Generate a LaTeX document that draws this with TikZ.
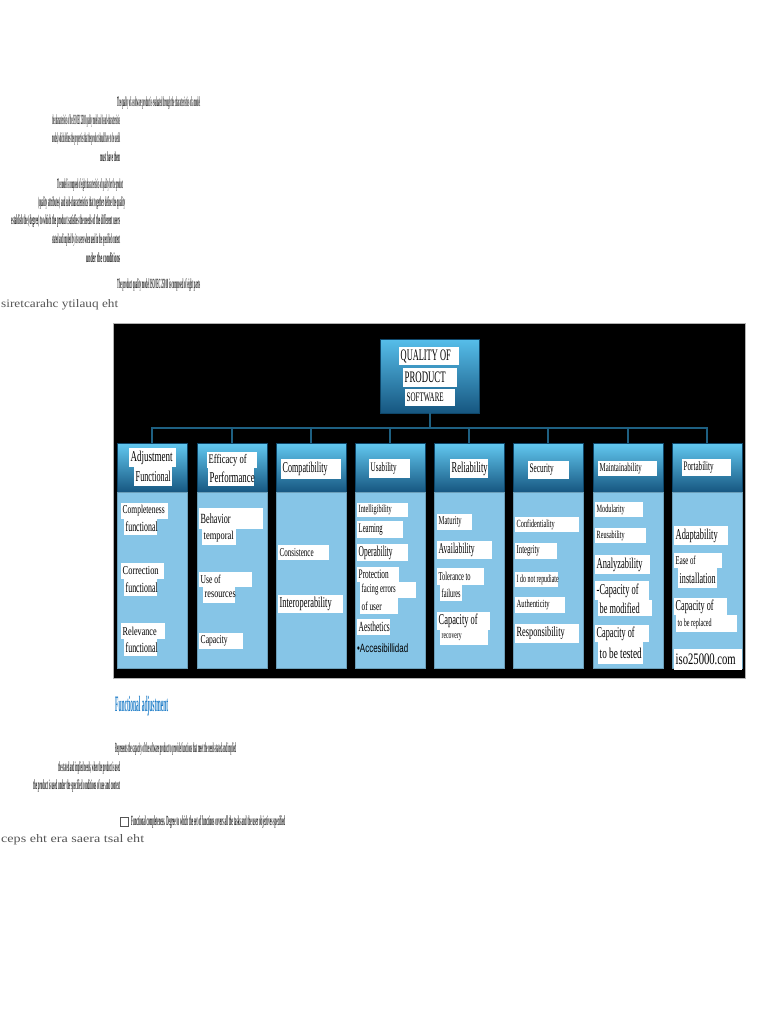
\documentclass[tikz,border=0pt]{standalone}
\usepackage{fontspec}
\setmainfont{Liberation Serif}
\newfontfamily\sansf{Liberation Sans}
\usepackage{graphicx}
\definecolor{hdrtop}{RGB}{98,200,240}
\definecolor{hdrmid}{RGB}{40,150,210}
\definecolor{hdrbot}{RGB}{22,86,128}
\definecolor{hdrborder}{RGB}{14,70,105}
\definecolor{bodyblue}{RGB}{134,197,231}
\definecolor{connc}{RGB}{30,96,130}
\definecolor{textgray}{RGB}{85,85,85}
\definecolor{textdark}{RGB}{30,30,30}
\definecolor{headblue}{RGB}{30,125,200}
\newcommand\wl[8]{%
  \fill[white] (#2,#3) rectangle (#4,#5);
  \node[lbl] (#1) at (#2+1.5,{(#3+#5)/2}) {\resizebox{#6pt}{\height}{\fontsize{#7}{#7}\selectfont #8}};}
\newcommand\ptxt[5]{\node[ptext] (#1) at (#2,#3) {\resizebox{#4pt}{\height}{#5}};}
\begin{document}
\begin{tikzpicture}[x=1pt,y=-1pt,
  lbl/.style={anchor=west, inner sep=0pt, text=black},
  ptext/.style={anchor=west, inner sep=0pt, text=textdark, font=\fontsize{14}{14}\selectfont\bfseries},
  rtext/.style={anchor=west, inner sep=0pt, text=textgray, font=\fontsize{11.5}{11.5}\selectfont},
  panel/.style={fill=black, draw=gray!60, line width=0.8pt, minimum width=632pt, minimum height=355pt, inner sep=0pt},
  hdr/.style={anchor=north west, minimum width=70pt, minimum height=49pt, inner sep=0pt,
    draw=hdrborder, line width=0.6pt, top color=hdrtop, middle color=hdrmid, bottom color=hdrbot},
  roothdr/.style={minimum width=99pt, minimum height=74pt, inner sep=0pt,
    draw=hdrborder, line width=0.6pt, top color=hdrtop!80!hdrmid, middle color=hdrmid, bottom color=hdrbot},
  bodybox/.style={anchor=north west, minimum width=70pt, minimum height=176pt, inner sep=0pt,
    fill=bodyblue, draw=bodyblue!80!black, line width=0.4pt},
  conn/.style={draw=connc, line width=2pt},
  chk/.style={draw=textgray, line width=0.5pt, minimum width=8pt, minimum height=9pt, inner sep=0pt}]
\useasboundingbox (0,0) rectangle (768,1024);
\fill[white] (0,0) rectangle (768,1024);

% ---------- page text above ----------
\ptxt{t1}{117}{103}{83}{The quality of a software product is evaluated through the characteristics of a model}
\ptxt{t2}{52}{121}{68}{the characteristics of the ISO/IEC 25010 quality model and its sub-characteristics}
\ptxt{t3}{52}{139}{68}{model, which defines the properties that the product should have to be useful}
\ptxt{t4}{100}{157}{20}{must have them}
\ptxt{t5}{57}{185}{66}{The model is composed of eight characteristics of quality for the product}
\ptxt{t6}{38}{203}{87}{(quality attributes) and sub-characteristics that together define the quality}
\ptxt{t7}{11}{221}{109}{establish the (degree) to which the product satisfies the needs of the different users}
\ptxt{t8}{52}{240}{68}{stated and implied by its users when used in the specified context}
\ptxt{t9}{86}{258}{34}{under the conditions}
\ptxt{t10}{117}{285}{83}{The product quality model ISO/IEC 25010 is composed of eight parts}
\node[rtext] (t11) at (1,305) {\resizebox{117pt}{\height}{siretcarahc ytilauq eht}};

% ---------- diagram ----------
\node[panel] (panel) at (429,500.5) {};
\node[roothdr] (root) at (429.5,376) {};
\foreach \n/\x in {c1/117,c2/197,c3/276,c4/355,c5/434,c6/513,c7/593,c8/672}{
  \node[hdr] (\n) at (\x,443) {};
  \node[bodybox] (\n-body) at (\x,492) {};
}
\coordinate (bus) at (0,428);
\draw[conn] (root.south) -- (root.south |- bus);
\draw[conn] (c1.north) -- (c1.north |- bus) -- (c8.north |- bus) -- (c8.north);
\foreach \n in {c2,c3,c4,c5,c6,c7}{\draw[conn] (\n.north) -- (\n.north |- bus);}

% root labels
\wl{r1}{399}{347}{459}{365}{50}{16}{QUALITY OF}
\wl{r2}{403}{368}{457}{387}{41}{16}{PRODUCT}
\wl{r3}{405}{389}{455}{406}{37}{13}{SOFTWARE}

% header labels
\wl{h1a}{129}{448}{176}{467}{42}{15}{Adjustment}
\wl{h1b}{134}{467}{172}{486}{35}{15}{Functional}
\wl{h2a}{207}{452}{257}{468}{38}{13}{Efficacy of}
\wl{h2b}{208}{468}{254}{486}{45}{15}{Performance}
\wl{h3}{281}{459}{341}{479}{45}{15}{Compatibility}
\wl{h4}{369}{459}{410}{478}{26}{13}{Usability}
\wl{h5}{450}{459}{488}{478}{36}{15}{Reliability}
\wl{h6}{528}{461}{569}{479}{24}{13}{Security}
\wl{h7}{598}{461}{657}{476}{42}{12}{Maintainability}
\wl{h8}{682}{459}{731}{476}{30}{13}{Portability}

% column 1
\wl{a1}{121}{503}{168}{519}{42}{12}{Completeness}
\wl{a2}{124}{519}{157}{535}{32}{14}{functional}
\wl{a3}{121}{563}{164}{579}{36}{12}{Correction}
\wl{a4}{124}{579}{157}{596}{32}{14}{functional}
\wl{a5}{121}{623}{165}{639}{34}{12}{Relevance}
\wl{a6}{124}{639}{157}{656}{32}{14}{functional}
% column 2
\wl{b1}{199}{508}{263}{529}{30}{14}{Behavior}
\wl{b2}{202}{529}{236}{545}{30}{12}{temporal}
\wl{b3}{199}{572}{252}{587}{20}{12}{Use of}
\wl{b4}{203}{587}{235}{603}{31}{12}{resources}
\wl{b5}{199}{633}{243}{649}{27}{12}{Capacity}
% column 3
\wl{d1}{278}{545}{329}{560}{34}{12}{Consistence}
\wl{d2}{278}{595}{343}{613}{52}{15}{Interoperability}
% column 4
\wl{e1}{357}{503}{408}{517}{33}{11}{Intelligibility}
\wl{e2}{357}{521}{403}{538}{24}{13}{Learning}
\wl{e3}{357}{544}{408}{561}{34}{15}{Operability}
\wl{e4}{357}{567}{399}{582}{30}{13}{Protection}
\wl{e5}{360}{582}{416}{598}{34}{12}{facing errors}
\wl{e6}{360}{598}{398}{614}{20}{12}{of user}
\wl{e7}{357}{619}{390}{635}{31}{14}{Aesthetics}
\node[lbl] (e8) at (357,648) {\resizebox{51pt}{\height}{\sansf\fontsize{12}{12}\selectfont •Accesibillidad}};
% column 5
\wl{f1}{437}{514}{472}{530}{23}{12}{Maturity}
\wl{f2}{437}{541}{492}{559}{36}{15}{Availability}
\wl{f3}{437}{568}{484}{585}{32}{12}{Tolerance to}
\wl{f4}{440}{585}{462}{601}{19}{12}{failures}
\wl{f5}{437}{612}{490}{630}{39}{15}{Capacity of}
\wl{f6}{440}{630}{488}{645}{20}{10}{recovery}
% column 6
\wl{g1}{515}{517}{579}{532}{38}{11}{Confidentiality}
\wl{g2}{515}{543}{557}{559}{23}{12}{Integrity}
\wl{g3}{515}{572}{558}{587}{42}{11}{I do not repudiate}
\wl{g4}{515}{597}{565}{613}{33}{11}{Authenticity}
\wl{g5}{515}{624}{579}{643}{48}{14}{Responsibility}
% column 7
\wl{k1}{595}{502}{643}{517}{28}{11}{Modularity}
\wl{k2}{595}{528}{646}{543}{28}{11}{Reusability}
\wl{k3}{595}{555}{650}{574}{46}{15}{Analyzability}
\wl{k4}{595}{581}{649}{600}{42}{15}{-Capacity of}
\wl{k5}{598}{600}{652}{616}{40}{15}{be modified}
\wl{k6}{595}{625}{649}{642}{38}{15}{Capacity of}
\wl{k7}{598}{642}{643}{664}{42}{15}{to be tested}
% column 8
\wl{m1}{674}{526}{728}{545}{42}{15}{Adaptability}
\wl{m2}{674}{553}{722}{568}{20}{12}{Ease of}
\wl{m3}{678}{568}{717}{588}{36}{15}{installation}
\wl{m4}{674}{598}{727}{615}{38}{15}{Capacity of}
\wl{m5}{676}{615}{737}{632}{34}{11}{to be replaced}
\wl{m6}{674}{649}{742}{670}{60}{16}{iso25000.com}

% ---------- page text below ----------
\node[anchor=west, inner sep=0pt, text=headblue] (hd) at (115,706) {\resizebox{53pt}{\height}{\fontsize{22}{22}\selectfont\bfseries Functional adjustment}};
\ptxt{u1}{115}{749}{121}{Represents the capacity of the software product to provide functions that meet the needs stated and implied}
\ptxt{u2}{58}{768}{62}{the stated and implied needs, when the product is used}
\ptxt{u3}{33}{786}{87}{the product is used under the specified conditions of use and context}
\node[chk] (box) at (124,822) {};
\ptxt{u4}{131}{822}{154}{Functional completeness. Degree to which the set of functions covers all the tasks and the user objectives specified}
\node[rtext] (u5) at (1,840) {\resizebox{143pt}{\height}{ceps eht era saera tsal eht}};
\end{tikzpicture}
\end{document}
